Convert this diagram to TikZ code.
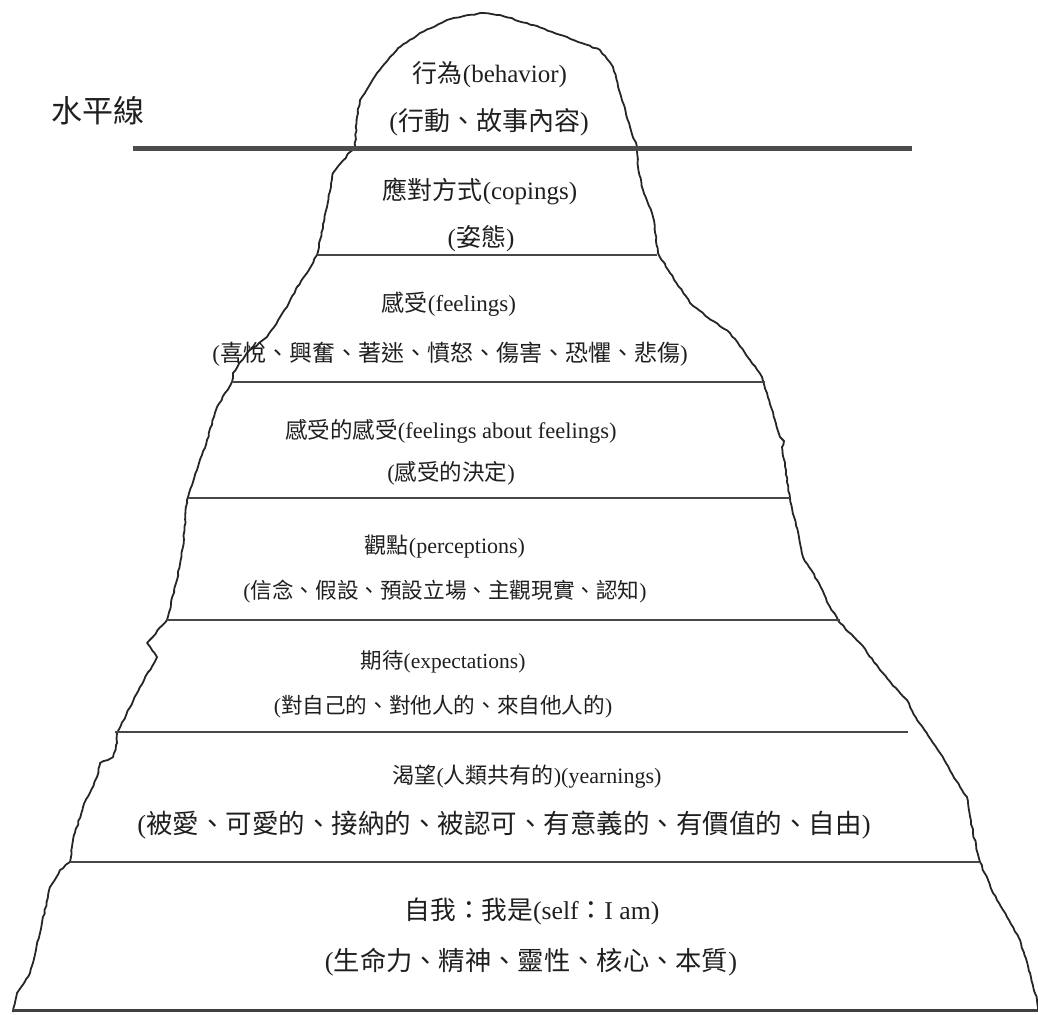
\documentclass[tikz,border=0pt]{standalone}
\usepackage{fontspec}
\setmainfont{Liberation Serif}
\newfontfamily\cjk{Noto Sans CJK TC}
\usetikzlibrary{decorations.pathmorphing}

% one label line: x, vertical centre, size (pt), name, text
\newcommand\berglabel[5]{%
  \node[lbl, font=\fontsize{#3pt}{#3pt}\selectfont] (#4) at (#1,{#2+0.38*#3}) {#5};}

\begin{document}
\begin{tikzpicture}[x=1pt,y=-1pt,
  berg/.style={draw=black!85, line width=1.8pt, line join=round,
    decorate, decoration={random steps, segment length=4pt, amplitude=0.6pt}},
  layer/.style={draw=black!72, line width=2pt},
  water/.style={draw=black!70, line width=5pt},
  base/.style={draw=black!75, line width=3pt},
  lbl/.style={anchor=base, inner sep=0pt, text=black!88},
]
\useasboundingbox (0,0) rectangle (1038,1014);

% iceberg outline
\draw[berg]
  (13,1012) -- (17,993) -- (30,973) -- (40,933) -- (50,887) -- (60,870)
  -- (70,862) -- (73,840) -- (83,807) -- (97,777) -- (100,763) -- (113,757)
  -- (117,743) -- (117,733) -- (140,687) -- (157,657) -- (147,643)
  -- (167,620) -- (177,580) -- (183,547) -- (187,500) -- (197,470)
  -- (207,440) -- (217,407) -- (232,382) -- (233,373) -- (247,353)
  -- (267,337) -- (287,307) -- (297,287) -- (307,273) -- (317,255)
  -- (320,240) -- (327,207) -- (333,173) -- (350,152) -- (355,147)
  -- (357,117) -- (360,100) -- (377,73) -- (390,57) -- (400,47)
  -- (420,33) -- (447,20) -- (480,13) -- (500,15) -- (533,25) -- (567,37)
  -- (600,50) -- (613,67) -- (620,93) -- (630,127) -- (637,147)
  -- (638,167) -- (643,190) -- (653,217) -- (658,253) -- (670,273)
  -- (690,303) -- (707,317) -- (730,333) -- (750,360) -- (762,377)
  -- (767,393) -- (780,437) -- (784,441) -- (782,447) -- (790,498)
  -- (803,557) -- (817,580) -- (830,607) -- (840,623) -- (860,643)
  -- (880,670) -- (900,693) -- (907,700) -- (917,720) -- (940,753)
  -- (960,787) -- (967,797) -- (973,833) -- (980,862) -- (993,893)
  -- (1007,917) -- (1020,940) -- (1030,973) -- (1037,1000) -- (1038,1010);

% water line
\draw[water] (133,148) -- (912,148);

% layer boundaries
\draw[layer] (317,255) -- (657,255);
\draw[layer] (232,382) -- (765,382);
\draw[layer] (188,498) -- (790,498);
\draw[layer] (167,620) -- (840,620);
\draw[layer] (115,732) -- (908,732);
\draw[layer] (70,862) -- (979,862);
\draw[base] (13,1010) -- (1038,1010);

% labels
\berglabel{98}{111}{31}{wl}{\cjk 水平線}
\berglabel{490}{73}{25}{b1}{{\cjk 行為}(behavior)}
\berglabel{489}{121}{26}{b2}{({\cjk 行動、故事內容})}
\berglabel{480}{190}{25}{c1}{{\cjk 應對方式}(copings)}
\berglabel{481}{237}{25}{c2}{({\cjk 姿態})}
\berglabel{449}{303}{23}{f1}{{\cjk 感受}(feelings)}
\berglabel{450}{353}{23}{f2}{({\cjk 喜悅、興奮、著迷、憤怒、傷害、恐懼、悲傷})}
\berglabel{451}{430}{22.5}{ff1}{{\cjk 感受的感受}(feelings about feelings)}
\berglabel{451}{472}{22.5}{ff2}{({\cjk 感受的決定})}
\berglabel{445}{545}{22}{p1}{{\cjk 觀點}(perceptions)}
\berglabel{445}{590}{21.6}{p2}{({\cjk 信念、假設、預設立場、主觀現實、認知})}
\berglabel{443}{660}{21.5}{e1}{{\cjk 期待}(expectations)}
\berglabel{443}{705}{21.6}{e2}{({\cjk 對自己的、對他人的、來自他人的})}
\berglabel{527}{775}{22}{y1}{{\cjk 渴望}({\cjk 人類共有的})(yearnings)}
\berglabel{504}{823}{26.5}{y2}{({\cjk 被愛、可愛的、接納的、被認可、有意義的、有價值的、自由})}
\berglabel{532}{910}{25.7}{s1}{{\cjk 自我：我是}(self{\cjk ：}I am)}
\berglabel{531}{960}{26.3}{s2}{({\cjk 生命力、精神、靈性、核心、本質})}
\end{tikzpicture}
\end{document}
